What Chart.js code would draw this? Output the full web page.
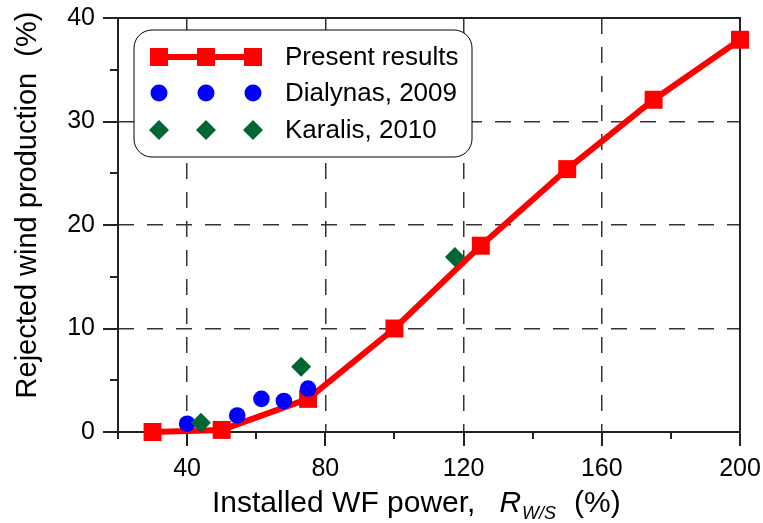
<!DOCTYPE html>
<html><head><meta charset="utf-8">
<script src="https://cdn.jsdelivr.net/npm/chart.js@4/dist/chart.umd.min.js"></script>
<style>html,body{margin:0;padding:0;background:#fff}#wrap{width:763px;height:523px}</style>
</head><body><div id="wrap"><canvas id="c" width="763" height="523"></canvas></div>
<script>
const presentX = [30, 50, 75, 100, 125, 150, 175, 200];
const presentY = [0, 0.2, 3.2, 10, 18, 25.4, 32.1, 37.9];
const dialynasX = [40, 54.5, 61.5, 68, 75];
const dialynasY = [0.8, 1.6, 3.2, 3.0, 4.2];
const karalisX = [44, 73, 117.5];
const karalisY = [0.9, 6.3, 16.9];
const xTicks = [40, 80, 120, 160, 200];
const yTicks = [0, 10, 20, 30, 40];
const seriesNames = ['Present results', 'Dialynas, 2009', 'Karalis, 2010'];
const xTitleMain = 'Installed WF power,';
const xTitleSym = 'R';
const xTitleSub = 'W/S';
const xTitleUnit = '(%)';
const yTitle = 'Rejected wind production  (%)';

const FONT = '"Liberation Sans", Arial, sans-serif';
const RED = '#ff0000', BLUE = '#0000ff', GREEN = '#006633';
const zip = (xs, ys) => xs.map((x, i) => ({x: x, y: ys[i]}));

function marker(ctx, style, x, y, r, color) {
  ctx.save();
  ctx.fillStyle = color;
  ctx.beginPath();
  if (style === 'rect') { const s = r * Math.SQRT1_2; ctx.rect(x - s, y - s, 2 * s, 2 * s); }
  else if (style === 'circle') { ctx.arc(x, y, r, 0, Math.PI * 2); }
  else { ctx.moveTo(x, y - r); ctx.lineTo(x + r, y); ctx.lineTo(x, y + r); ctx.lineTo(x - r, y); ctx.closePath(); }
  ctx.fill();
  ctx.restore();
}

const framePlugin = {
  id: 'frame',
  beforeDatasetsDraw(chart) {
    const ctx = chart.ctx, ca = chart.chartArea;
    const xs = chart.scales.x, ys = chart.scales.y;
    ctx.save();
    ctx.strokeStyle = '#222';
    ctx.lineWidth = 2;
    ctx.strokeRect(ca.left, ca.top, ca.right - ca.left, ca.bottom - ca.top);
    ctx.beginPath();
    for (let v = 20; v <= 200; v += 20) {
      const px = Math.round(xs.getPixelForValue(v));
      const len = xTicks.includes(v) ? 14 : 7;
      ctx.moveTo(px, ca.bottom); ctx.lineTo(px, ca.bottom + len);
    }
    for (let v = 0; v <= 40; v += 5) {
      const py = Math.round(ys.getPixelForValue(v));
      const len = yTicks.includes(v) ? 15 : 8;
      ctx.moveTo(ca.left, py); ctx.lineTo(ca.left - len, py);
    }
    ctx.stroke();
    ctx.restore();
  },
  afterDatasetsDraw(chart) {
    const ctx = chart.ctx, ca = chart.chartArea;
    const bx = ca.left + 16, by = ca.top + 12, bw = 338, bh = 127, rr = 18;
    ctx.save();
    ctx.beginPath();
    ctx.moveTo(bx + rr, by);
    ctx.arcTo(bx + bw, by, bx + bw, by + bh, rr);
    ctx.arcTo(bx + bw, by + bh, bx, by + bh, rr);
    ctx.arcTo(bx, by + bh, bx, by, rr);
    ctx.arcTo(bx, by, bx + bw, by, rr);
    ctx.closePath();
    ctx.fillStyle = '#fff';
    ctx.fill();
    ctx.strokeStyle = '#000';
    ctx.lineWidth = 1;
    ctx.stroke();
    const cols = [bx + 25, bx + 72, bx + 119];
    const rows = [by + 27, by + 63, by + 100];
    ctx.strokeStyle = RED; ctx.lineWidth = 6;
    ctx.beginPath(); ctx.moveTo(cols[0], rows[0]); ctx.lineTo(cols[2], rows[0]); ctx.stroke();
    cols.forEach(cx => {
      marker(ctx, 'rect', cx, rows[0], 12.7, RED);
      marker(ctx, 'circle', cx, rows[1], 8.5, BLUE);
      marker(ctx, 'diamond', cx, rows[2], 10, GREEN);
    });
    ctx.fillStyle = '#000';
    ctx.font = '26px ' + FONT;
    ctx.textBaseline = 'middle';
    ctx.textAlign = 'left';
    seriesNames.forEach((n, i) => ctx.fillText(n, bx + 151, rows[i] + 1));
    ctx.restore();
  },
  afterDraw(chart) {
    const ctx = chart.ctx, ca = chart.chartArea;
    ctx.save();
    ctx.fillStyle = '#000';
    ctx.textBaseline = 'alphabetic';
    ctx.textAlign = 'left';
    let x = ca.left + 94, base = 512;
    ctx.font = '30px ' + FONT;
    ctx.fillText(xTitleMain, x, base);
    x += ctx.measureText(xTitleMain).width + 24;
    ctx.font = 'italic 30px ' + FONT;
    ctx.fillText(xTitleSym, x, base);
    x += ctx.measureText(xTitleSym).width + 1;
    ctx.font = 'italic 18px ' + FONT;
    ctx.fillText(xTitleSub, x, base + 7);
    x += ctx.measureText(xTitleSub).width + 18;
    ctx.font = '30px ' + FONT;
    ctx.fillText(xTitleUnit, x, base);
    ctx.translate(28, 205);
    ctx.rotate(-Math.PI / 2);
    ctx.font = '29px ' + FONT;
    ctx.textAlign = 'center';
    ctx.textBaseline = 'middle';
    ctx.fillText(yTitle, 0, 0);
    ctx.restore();
  }
};

new Chart(document.getElementById('c'), {
  type: 'line',
  data: {
    datasets: [
      { label: seriesNames[0], data: zip(presentX, presentY), borderColor: RED, backgroundColor: RED,
        borderWidth: 6, pointStyle: 'rect', pointRadius: 12.7, pointBorderWidth: 0, pointBackgroundColor: RED,
        tension: 0, clip: false, order: 3 },
      { label: seriesNames[1], data: zip(dialynasX, dialynasY), showLine: false, backgroundColor: BLUE, borderColor: BLUE,
        pointStyle: 'circle', pointRadius: 8.3, pointBorderWidth: 0, pointBackgroundColor: BLUE, clip: false, order: 2 },
      { label: seriesNames[2], data: zip(karalisX, karalisY), showLine: false, backgroundColor: GREEN, borderColor: GREEN,
        pointStyle: 'rectRot', pointRadius: 10, pointBorderWidth: 0, pointBackgroundColor: GREEN, clip: false, order: 1 }
    ]
  },
  options: {
    responsive: false,
    devicePixelRatio: 1,
    animation: false,
    layout: { padding: { left: 0, right: 23, top: 18, bottom: 0 } },
    plugins: { legend: { display: false }, tooltip: { enabled: false } },
    scales: {
      x: {
        type: 'linear', min: 20, max: 200,
        afterFit: s => { s.height = 91; s.paddingLeft = 0; s.paddingRight = 0; },
        ticks: { stepSize: 20, autoSkip: false, maxRotation: 0, padding: 22, color: '#000',
          font: { family: FONT, size: 25 },
          callback: v => xTicks.includes(v) ? String(v) : '' },
        grid: { drawTicks: false, lineWidth: 1.5,
          color: c => (c.tick && xTicks.includes(c.tick.value) && c.tick.value !== 200) ? '#333' : 'rgba(0,0,0,0)' },
        border: { display: false, dash: [16, 13] }
      },
      y: {
        type: 'linear', min: 0, max: 40,
        afterFit: s => { s.width = 118; s.paddingTop = 0; s.paddingBottom = 0; },
        ticks: { stepSize: 5, autoSkip: false, padding: 23, color: '#000',
          font: { family: FONT, size: 25 },
          callback: v => yTicks.includes(v) ? String(v) : '' },
        grid: { drawTicks: false, lineWidth: 1.5,
          color: c => (c.tick && yTicks.includes(c.tick.value) && c.tick.value !== 0 && c.tick.value !== 40) ? '#333' : 'rgba(0,0,0,0)' },
        border: { display: false, dash: [16, 13] }
      }
    }
  },
  plugins: [framePlugin]
});
</script>
</body></html>
